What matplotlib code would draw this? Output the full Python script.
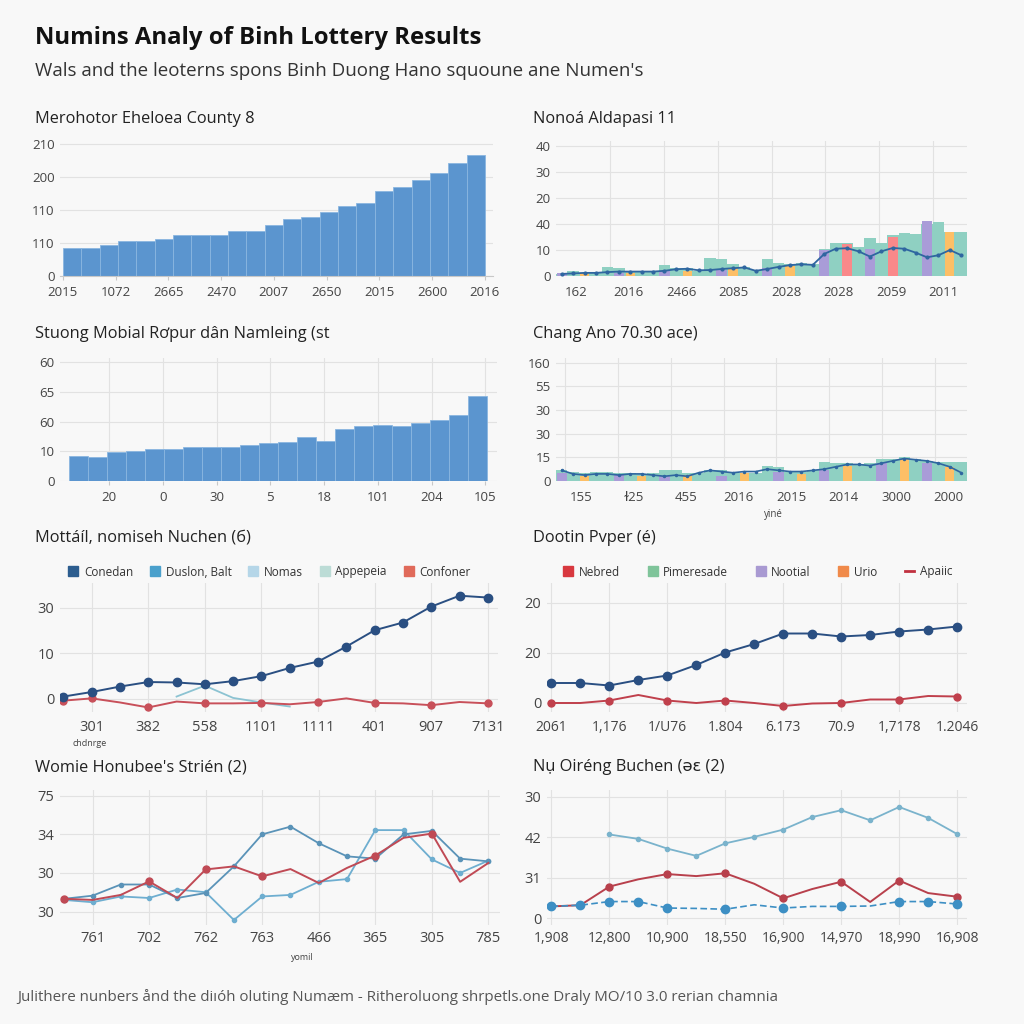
import matplotlib
matplotlib.use('Agg')
import matplotlib.pyplot as plt
import numpy as np
from matplotlib.lines import Line2D

# ---------------- data ----------------
title = "Numins Analy of Binh Lottery Results"
subtitle = "Wals and the leoterns spons Binh Duong Hano squoune ane Numen's"
footer = ("Julithere nunbers ånd the diıóh oluting Numæm - Ritheroluong shrpetls.one "
          "Draly MO/10 3.0 rerian chamnia")

p1_title = "Merohotor Eheloea County 8"
p1_xlabels = ['2015', '1072', '2665', '2470', '2007', '2650', '2015', '2600', '2016']
p1_ylabels = ['0', '110', '110', '200', '210']
p1_values = [0.85, 0.85, 0.95, 1.05, 1.05, 1.12, 1.23, 1.23, 1.25, 1.37, 1.37, 1.55,
             1.72, 1.80, 1.95, 2.12, 2.20, 2.56, 2.70, 2.92, 3.12, 3.42, 3.68]

p2_title = "Nonoá Aldapasi 11"
p2_xlabels = ['162', '2016', '2466', '2085', '2028', '2028', '2059', '2011']
p2_ylabels = ['0', '10', '40', '20', '30', '40']
p2_teal = [0.09, 0.19, 0.13, 0.17, 0.35, 0.30, 0.19, 0.17, 0.19, 0.41, 0.32, 0.32,
           0.19, 0.71, 0.65, 0.45, 0.35, 0.22, 0.65, 0.52, 0.45, 0.52, 0.45, 1.03,
           1.27, 1.29, 1.10, 1.46, 1.29, 1.59, 1.64, 1.61, 2.00, 2.07, 1.68, 1.68]
p2_purple_idx = [0, 5, 9, 14, 18, 23, 27, 32]
p2_purple_val = [0.10, 0.13, 0.20, 0.25, 0.30, 1.00, 1.03, 2.10]
p2_orange_idx = [2, 6, 11, 15, 20, 34]
p2_orange_val = [0.10, 0.10, 0.20, 0.32, 0.40, 1.68]
p2_coral_idx = [25, 29]
p2_coral_val = [1.25, 1.49]
p2_line = [0.08, 0.10, 0.12, 0.12, 0.15, 0.17, 0.17, 0.17, 0.17, 0.20, 0.26, 0.28,
           0.22, 0.23, 0.27, 0.30, 0.33, 0.20, 0.27, 0.35, 0.42, 0.45, 0.43, 0.85,
           1.05, 1.07, 0.95, 0.75, 0.95, 1.08, 1.05, 0.90, 0.72, 0.80, 1.00, 0.80]

p3_title = "Stuong Mobial Rơpur dân Namleing (st"
p3_xlabels = ['20', '0', '30', '5', '18', '101', '204', '105']
p3_ylabels = ['0', '10', '60', '65', '60']
p3_values = [0.83, 0.81, 0.98, 1.00, 1.07, 1.07, 1.14, 1.14, 1.14, 1.23, 1.27, 1.32,
             1.47, 1.35, 1.74, 1.87, 1.90, 1.87, 1.97, 2.07, 2.23, 2.86]

p4_title = "Chang Ano 70.30 ace)"
p4_xlabels = ['155', 'ɫ25', '455', '2016', '2015', '2014', '3000', '2000']
p4_ylabels = ['0', '15', '30', '30', '55', '160']
p4_xname = "yiné"
p4_teal = [0.45, 0.40, 0.35, 0.38, 0.38, 0.35, 0.35, 0.30, 0.35, 0.45, 0.45, 0.35,
           0.35, 0.45, 0.45, 0.40, 0.35, 0.35, 0.65, 0.60, 0.40, 0.40, 0.45, 0.80,
           0.75, 0.75, 0.70, 0.75, 0.95, 0.95, 1.00, 0.95, 0.85, 0.80, 0.80, 0.80]
p4_purple_idx = [0, 5, 9, 14, 19, 23, 28, 32]
p4_purple_val = [0.35, 0.25, 0.20, 0.20, 0.40, 0.45, 0.75, 0.75]
p4_orange_idx = [2, 7, 11, 16, 21, 25, 30, 34]
p4_orange_val = [0.20, 0.20, 0.25, 0.35, 0.30, 0.65, 0.95, 0.60]
p4_line = [0.45, 0.30, 0.25, 0.30, 0.30, 0.25, 0.30, 0.30, 0.25, 0.20, 0.25, 0.20,
           0.35, 0.45, 0.40, 0.35, 0.40, 0.40, 0.50, 0.45, 0.40, 0.40, 0.45, 0.50,
           0.60, 0.70, 0.70, 0.65, 0.75, 0.85, 0.95, 0.90, 0.85, 0.75, 0.60, 0.35]

p5_title = "Mottáíl, nomiseh Nuchen (б)"
p5_xlabels = ['301', '382', '558', '1101', '1111', '401', '907', '7131']
p5_ylabels = ['0', '10', '30']
p5_xname = "chdnrge"
p5_legend = ['Conedan', 'Duslon, Balt', 'Nomas', 'Appepeia', 'Confoner']
p5_navy = [0.05, 0.15, 0.27, 0.37, 0.36, 0.32, 0.39, 0.50, 0.68, 0.82, 1.15, 1.51,
           1.68, 2.03, 2.27, 2.23]
p5_red = [-0.04, 0.01, -0.08, -0.19, -0.06, -0.10, -0.10, -0.09, -0.12, -0.07, 0.01,
          -0.09, -0.10, -0.14, -0.07, -0.10]
p5_light = [np.nan, np.nan, np.nan, np.nan, 0.05, 0.29, 0.02, -0.08, -0.17, np.nan,
            np.nan, np.nan, np.nan, np.nan, np.nan, np.nan]

p6_title = "Dootin Pvper (é)"
p6_xlabels = ['2061', '1,176', '1/U76', '1.804', '6.173', '70.9', '1,7178', '1.2046']
p6_ylabels = ['0', '20', '20']
p6_legend = ['Nebred', 'Pimeresade', 'Nootial', 'Urio', 'Apaiic']
p6_navy = [0.40, 0.40, 0.35, 0.46, 0.55, 0.76, 1.01, 1.18, 1.39, 1.39, 1.33, 1.36,
           1.43, 1.47, 1.53]
p6_red = [0.00, 0.00, 0.05, 0.16, 0.05, 0.00, 0.05, 0.00, -0.06, -0.01, 0.00, 0.07,
          0.07, 0.14, 0.13]

p7_title = "Womie Honubee's Strién (2)"
p7_xlabels = ['761', '702', '762', '763', '466', '365', '305', '785']
p7_ylabels = ['30', '30', '34', '75']
p7_xname = "yomil"
p7_blue_a = [0.33, 0.41, 0.70, 0.70, 0.35, 0.48, 1.17, 2.00, 2.20, 1.77, 1.43, 1.37,
             2.00, 2.09, 1.37, 1.30]
p7_blue_b = [0.30, 0.24, 0.39, 0.35, 0.57, 0.50, -0.22, 0.39, 0.43, 0.77, 0.84, 2.11,
             2.11, 1.35, 1.00, 1.32]
p7_red = [0.33, 0.30, 0.43, 0.78, 0.35, 1.09, 1.17, 0.91, 1.10, 0.74, 1.13, 1.45,
          1.91, 2.02, 0.77, 1.26]

p8_title = "Nụ Oiréng Buchen (ǝɛ (2)"
p8_xlabels = ['1,908', '12,800', '10,900', '18,550', '16,900', '14,970', '18,990', '16,908']
p8_ylabels = ['0', '31', '42', '30']
p8_top = [np.nan, np.nan, 2.07, 1.96, 1.72, 1.54, 1.85, 2.01, 2.19, 2.50, 2.67, 2.42,
          2.75, 2.48, 2.08]
p8_red = [0.29, 0.32, 0.78, 0.96, 1.09, 1.04, 1.11, 0.85, 0.49, 0.72, 0.90, 0.40,
          0.93, 0.62, 0.53]
p8_blue = [0.29, 0.32, 0.41, 0.41, 0.25, 0.24, 0.22, 0.33, 0.25, 0.29, 0.29, 0.30,
           0.41, 0.41, 0.35]

# ---------------- style ----------------
plt.rcParams['font.family'] = ['Open Sans', 'DejaVu Sans']
BG = '#f8f8f8'
GRID = '#e2e2e2'
TICK = '#444444'
BAR = '#5b95cf'
TEAL = '#8fd0c2'
PURPLE = '#a99cd8'
ORANGE = '#fdbf66'
CORAL = '#f9898a'
NAVY = '#2a4f82'

fig = plt.figure(figsize=(10.24, 10.24), dpi=100, facecolor=BG)


def add_ax(l, r, t, b):
    ax = fig.add_axes([l / 1024, 1 - b / 1024, (r - l) / 1024, (b - t) / 1024])
    ax.set_facecolor(BG)
    for s in ax.spines.values():
        s.set_visible(False)
    ax.tick_params(length=0, labelsize=9.5, colors=TICK)
    ax.tick_params(axis='y', pad=4)
    ax.tick_params(axis='x', pad=7)
    ax.set_axisbelow(True)
    return ax


def ftext(x, y, s, **kw):
    fig.text(x / 1024, 1 - y / 1024, s, va='center', **kw)


ftext(35, 38, title, fontsize=17.2, fontweight='bold', color='#111111')
ftext(35, 71, subtitle, fontsize=13.5, color='#333333')
ftext(17, 997, footer, fontsize=10.9, color='#555555')

ptitle_kw = dict(fontsize=11.8, color='#222222')

# ---- panel 1 ----
ftext(35, 119, p1_title, **ptitle_kw)
ax1 = add_ax(60, 493, 140, 276)
x1 = np.arange(len(p1_values))
ax1.bar(x1, p1_values, width=1.0, color=BAR, edgecolor='#8ab6e0', linewidth=0.6, zorder=2)
ax1.set_xlim(-0.66, 22.94)
ax1.set_ylim(0, 4.12)
ax1.set_yticks(range(len(p1_ylabels)))
ax1.set_yticklabels(p1_ylabels)
ax1.set_xticks(np.linspace(-0.5, len(p1_values) - 0.5, len(p1_xlabels)))
ax1.set_xticklabels(p1_xlabels)
ax1.yaxis.grid(True, color=GRID, lw=0.8)
ax1.spines['bottom'].set_visible(True)
ax1.spines['bottom'].set_color('#c8c8c8')
ax1.tick_params(axis='x', length=3, color='#c8c8c8', pad=4)

# ---- panel 2 ----
ftext(533, 119, p2_title, **ptitle_kw)
ax2 = add_ax(556, 967, 141, 276)
x2 = np.arange(len(p2_teal))
ax2.bar(x2, p2_teal, width=1.0, color=TEAL, zorder=2)
ax2.bar(p2_purple_idx, p2_purple_val, width=0.9, color=PURPLE, zorder=3)
ax2.bar(p2_orange_idx, p2_orange_val, width=0.8, color=ORANGE, zorder=3)
ax2.bar(p2_coral_idx, p2_coral_val, width=0.9, color=CORAL, zorder=3)
ax2.plot(x2, p2_line, color='#2f66a0', lw=1.3, marker='o', ms=2, zorder=4)
ax2.set_xlim(-0.5, len(p2_teal) - 0.5)
ax2.set_ylim(0, 5.2)
ax2.set_yticks(range(len(p2_ylabels)))
ax2.set_yticklabels(p2_ylabels)
ax2.set_xticks(1.25 + 4.6 * np.arange(len(p2_xlabels)))
ax2.set_xticklabels(p2_xlabels)
ax2.set_xticks(4.22 + 4.72 * np.arange(7), minor=True)
ax2.tick_params(which='minor', length=0)
ax2.yaxis.grid(True, color=GRID, lw=0.8)
ax2.xaxis.grid(True, which='minor', color=GRID, lw=0.8)

# ---- panel 3 ----
ftext(35, 334, p3_title, **ptitle_kw)
ax3 = add_ax(60, 497, 358, 481)
x3 = np.arange(len(p3_values))
ax3.bar(x3, p3_values, width=1.0, color=BAR, edgecolor='#8ab6e0', linewidth=0.6, zorder=2)
ax3.set_xlim(-0.97, 22.03)
ax3.set_ylim(0, 4.15)
ax3.set_yticks(range(len(p3_ylabels)))
ax3.set_yticklabels(p3_ylabels)
ax3.set_xticks(1.61 + 2.83 * np.arange(len(p3_xlabels)))
ax3.set_xticklabels(p3_xlabels)
ax3.grid(True, color=GRID, lw=0.8)
ax3.tick_params(axis='x', length=3, color='#c8c8c8', pad=4)

# ---- panel 4 ----
ftext(533, 334, p4_title, **ptitle_kw)
ax4 = add_ax(556, 967, 358, 481)
x4 = np.arange(len(p4_teal))
ax4.bar(x4, p4_teal, width=1.0, color=TEAL, zorder=2)
ax4.bar(p4_purple_idx, p4_purple_val, width=0.9, color=PURPLE, zorder=3)
ax4.bar(p4_orange_idx, p4_orange_val, width=0.8, color=ORANGE, zorder=3)
ax4.plot(x4, p4_line, color='#2f66a0', lw=1.2, marker='o', ms=1.5, zorder=4)
ax4.set_xlim(-0.5, len(p4_teal) - 0.5)
ax4.set_ylim(0, 5.2)
ax4.set_yticks(range(len(p4_ylabels)))
ax4.set_yticklabels(p4_ylabels)
ax4.set_xticks(1.69 + 4.6 * np.arange(len(p4_xlabels)))
ax4.set_xticklabels(p4_xlabels)
ax4.set_xticks(0.29 + 4.63 * np.arange(8), minor=True)
ax4.tick_params(which='minor', length=0)
ax4.yaxis.grid(True, color=GRID, lw=0.8)
ax4.xaxis.grid(True, which='minor', color=GRID, lw=0.8)
ftext(773, 515, p4_xname, fontsize=7, color='#444444', ha='center')

# ---- panel 5 ----
ftext(35, 538, p5_title, **ptitle_kw)
ax5 = add_ax(60, 498, 583, 712)
x5 = np.arange(len(p5_navy))
ax5.plot(x5, p5_light, color='#8cc3d2', lw=1.3, zorder=3)
ax5.plot(x5, p5_red, color='#c8505a', lw=1.4, marker='o', ms=5,
         markevery=[0, 1, 3, 5, 7, 9, 11, 13, 15], zorder=4)
ax5.plot(x5, p5_navy, color=NAVY, lw=1.4, marker='o', ms=6, zorder=5)
ax5.set_xlim(-0.12, 15.36)
ax5.set_ylim(-0.29, 2.55)
ax5.set_yticks(range(len(p5_ylabels)))
ax5.set_yticklabels(p5_ylabels, fontsize=10.5)
ax5.set_xticks(1 + 2 * np.arange(len(p5_xlabels)))
ax5.set_xticklabels(p5_xlabels, fontsize=10.5)
ax5.grid(True, color=GRID, lw=0.8)
ax5.tick_params(axis='x', pad=6)
ftext(90, 743, p5_xname, fontsize=6.5, color='#444444', ha='center')
h5 = [Line2D([], [], ls='none', marker='s', ms=7, color=c)
      for c in ['#2c5d8f', '#4aa0cc', '#b5d6e8', '#bcdcd6', '#e06a5a']]
fig.legend(h5, p5_legend, loc='center left', bbox_to_anchor=(58 / 1024, 1 - 572 / 1024),
           ncol=5, frameon=False, fontsize=8.5, handlelength=0.8, handletextpad=0.5,
           columnspacing=1.45, labelcolor='#333333')

# ---- panel 6 ----
ftext(533, 538, p6_title, **ptitle_kw)
ax6 = add_ax(547, 967, 583, 712)
x6 = np.arange(len(p6_navy))
ax6.plot(x6, p6_red, color='#c0404c', lw=1.4, marker='o', ms=5,
         markevery=list(range(0, 15, 2)), zorder=4)
ax6.plot(x6, p6_navy, color=NAVY, lw=1.4, marker='o', ms=6, zorder=5)
ax6.set_xlim(-0.15, 14.34)
ax6.set_ylim(-0.18, 2.4)
ax6.set_yticks(range(len(p6_ylabels)))
ax6.set_yticklabels(p6_ylabels, fontsize=10.5)
ax6.set_xticks(2 * np.arange(len(p6_xlabels)))
ax6.set_xticklabels(p6_xlabels, fontsize=10)
ax6.grid(True, color=GRID, lw=0.8)
ax6.tick_params(axis='x', pad=6)
h6 = [Line2D([], [], ls='none', marker='s', ms=7, color=c)
      for c in ['#d8383f', '#7fc49a', '#a99ad2', '#f08a4a']]
h6.append(Line2D([], [], color='#c0303f', lw=2))
fig.legend(h6, p6_legend, loc='center left', bbox_to_anchor=(553 / 1024, 1 - 572 / 1024),
           ncol=5, frameon=False, fontsize=8.5, handlelength=0.8, handletextpad=0.5,
           columnspacing=2.35, labelcolor='#333333')

# ---- panel 7 ----
ftext(35, 767, p7_title, **ptitle_kw)
ax7 = add_ax(60, 500, 790, 925)
x7 = np.arange(len(p7_red))
ax7.plot(x7, p7_blue_b, color='#6eaed0', lw=1.3, marker='o', ms=3, zorder=3)
ax7.plot(x7, p7_blue_a, color='#5a93b8', lw=1.3, marker='o', ms=3, zorder=3)
ax7.plot(x7, p7_red, color='#c04a55', lw=1.4, marker='o', ms=5,
         markevery=[0, 3, 5, 7, 11, 13], zorder=4)
ax7.set_xlim(-0.15, 15.41)
ax7.set_ylim(-0.35, 3.15)
ax7.set_yticks(range(len(p7_ylabels)))
ax7.set_yticklabels(p7_ylabels, fontsize=10.5)
ax7.set_xticks(1 + 2 * np.arange(len(p7_xlabels)))
ax7.set_xticklabels(p7_xlabels, fontsize=10.5)
ax7.grid(True, color=GRID, lw=0.8)
ax7.tick_params(axis='x', pad=4)
ftext(302, 957, p7_xname, fontsize=6.5, color='#444444', ha='center')

# ---- panel 8 ----
ftext(533, 767, p8_title, **ptitle_kw)
ax8 = add_ax(547, 967, 790, 925)
x8 = np.arange(len(p8_red))
ax8.plot(x8, p8_top, color='#7ab3cc', lw=1.3, marker='o', ms=3, zorder=3)
ax8.plot(x8, p8_red, color='#b8404c', lw=1.4, marker='o', ms=5,
         markevery=[0] + list(range(2, 15, 2)), zorder=4)
ax8.plot(x8, p8_blue, color='#3d8fc4', lw=1.2, ls=(0, (4, 2)), marker='o', ms=6,
         markevery=[0, 1, 2, 3, 4, 6, 8, 10, 12, 13, 14], zorder=5)
ax8.set_xlim(-0.15, 14.34)
ax8.set_ylim(-0.17, 3.17)
ax8.set_yticks(range(len(p8_ylabels)))
ax8.set_yticklabels(p8_ylabels, fontsize=10.5)
ax8.set_xticks(2 * np.arange(len(p8_xlabels)))
ax8.set_xticklabels(p8_xlabels, fontsize=10)
ax8.grid(True, color=GRID, lw=0.8)
ax8.tick_params(axis='x', pad=4)

fig.savefig('out.png', dpi=100, facecolor=BG)
